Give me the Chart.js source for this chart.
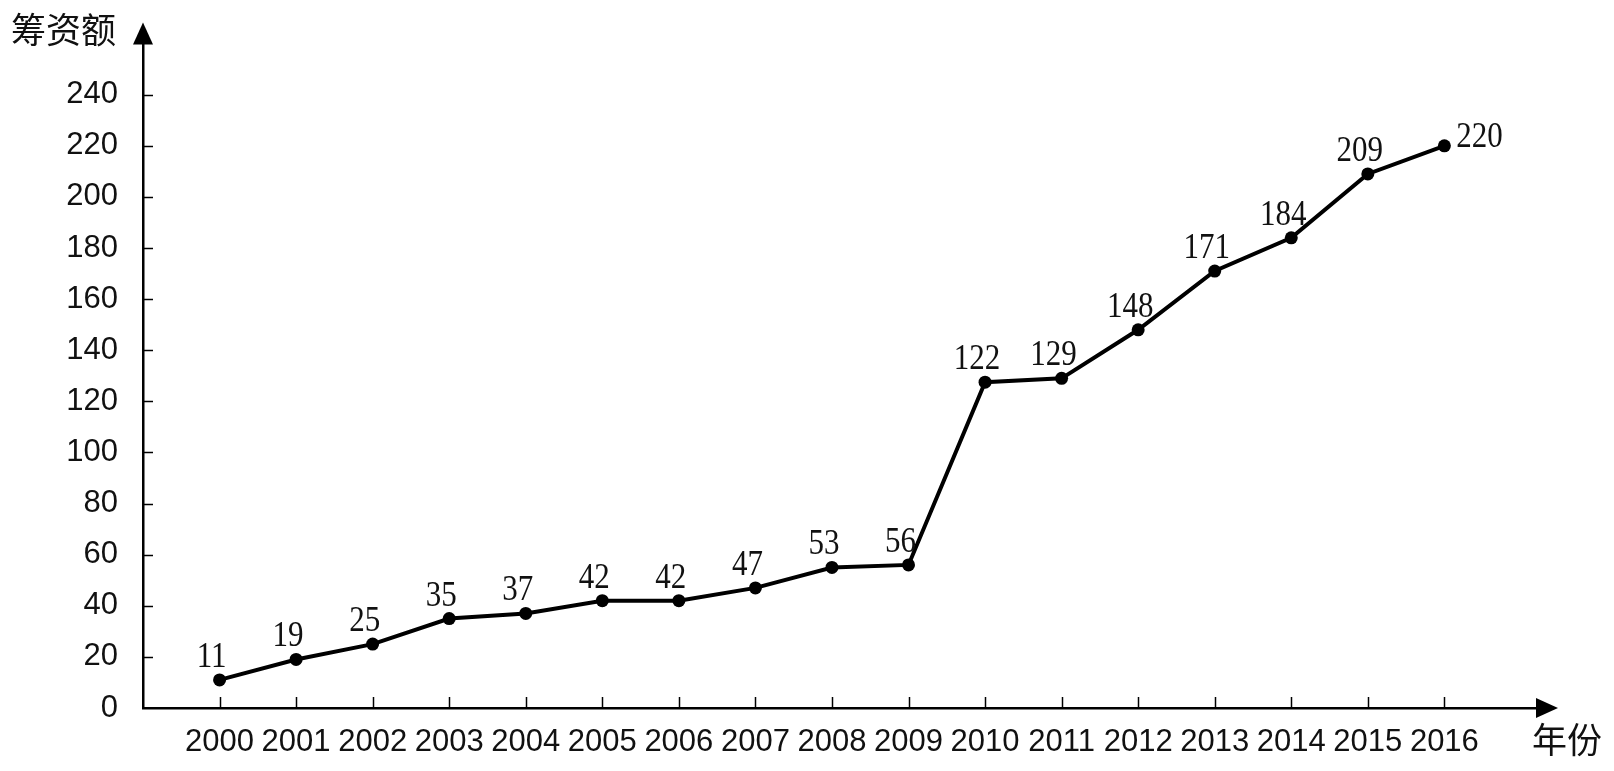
<!DOCTYPE html>
<html>
<head>
<meta charset="utf-8">
<script src="https://cdn.jsdelivr.net/npm/chart.js@4.4.1/dist/chart.umd.min.js"></script>
<style>
html,body{margin:0;padding:0;background:#fff;}
#wrap{width:1614px;height:771px;position:relative;}
</style>
</head>
<body>
<div id="wrap"><canvas id="c" width="1614" height="771"></canvas></div>
<script>
// ---- data ----
const years = [2000,2001,2002,2003,2004,2005,2006,2007,2008,2009,2010,2011,2012,2013,2014,2015,2016];
const plottedValues = [11,19,25,35,37,42,42,47,55,56,127.5,129,148,171,184,209,220];
const valueLabels = ['11','19','25','35','37','42','42','47','53','56','122','129','148','171','184','209','220'];
const yTickValues = [0,20,40,60,80,100,120,140,160,180,200,220,240];
const yAxisTitle = '筹资额';
const xAxisTitle = '年份';

const AX = '#000';
const TXT = '#111';

const decor = {
  id: 'decor',
  afterDraw(chart) {
    const ctx = chart.ctx;
    const a = chart.chartArea;
    const xs = chart.scales.x, ys = chart.scales.y;
    ctx.save();
    // tick marks (inside)
    ctx.strokeStyle = AX; ctx.lineWidth = 1.5;
    ys.ticks.forEach(t => {
      const y = Math.round(ys.getPixelForValue(t.value)) + 0.5;
      if (t.value === 0) return;
      ctx.beginPath(); ctx.moveTo(a.left, y); ctx.lineTo(a.left + 10, y); ctx.stroke();
    });
    xs.ticks.forEach(t => {
      const x = Math.round(xs.getPixelForValue(t.value)) + 0.5;
      ctx.beginPath(); ctx.moveTo(x, a.bottom); ctx.lineTo(x, a.bottom - 11); ctx.stroke();
    });
    // arrows
    ctx.fillStyle = AX;
    ctx.beginPath();
    ctx.moveTo(a.left, a.top - 21); ctx.lineTo(a.left - 10, a.top + 1); ctx.lineTo(a.left + 10, a.top + 1); ctx.closePath(); ctx.fill();
    ctx.beginPath();
    ctx.moveTo(a.right + 21, a.bottom); ctx.lineTo(a.right - 1, a.bottom - 10); ctx.lineTo(a.right - 1, a.bottom + 10); ctx.closePath(); ctx.fill();
    // axis titles
    ctx.fillStyle = '#111';
    ctx.font = '35px "Noto Sans CJK SC"';
    ctx.textBaseline = 'middle';
    ctx.textAlign = 'left';
    ctx.fillText(yAxisTitle, 11, 30);
    ctx.fillText(xAxisTitle, a.right - 5, 740);
    // data labels (slightly tall serif digits)
    const meta = chart.getDatasetMeta(0);
    ctx.font = '31px "Liberation Serif"';
    ctx.fillStyle = TXT;
    const sy = 1.18;
    meta.data.forEach((pt, i) => {
      ctx.save();
      if (i === meta.data.length - 1) {
        ctx.translate(pt.x + 12, pt.y - 8);
        ctx.scale(1, sy);
        ctx.textAlign = 'left'; ctx.textBaseline = 'middle';
        ctx.fillText(valueLabels[i], 0, 0);
      } else {
        ctx.translate(pt.x - 8, pt.y - 13);
        ctx.scale(1, sy);
        ctx.textAlign = 'center'; ctx.textBaseline = 'alphabetic';
        ctx.fillText(valueLabels[i], 0, 0);
      }
      ctx.restore();
    });
    ctx.restore();
  }
};

new Chart(document.getElementById('c'), {
  type: 'line',
  data: {
    datasets: [{
      data: years.map((y, i) => ({x: y, y: plottedValues[i]})),
      borderColor: '#000',
      backgroundColor: '#000',
      borderWidth: 4,
      pointRadius: 6.5,
      pointHoverRadius: 6.5,
      pointBackgroundColor: '#000',
      pointBorderWidth: 0,
      tension: 0,
      fill: false
    }]
  },
  options: {
    responsive: false,
    animation: false,
    events: [],
    layout: { padding: { left: 0, right: 77, top: 42, bottom: 0 } },
    plugins: { legend: { display: false }, tooltip: { enabled: false } },
    scales: {
      x: {
        type: 'linear',
        min: 1999,
        max: 2017.21,
        grid: { display: false, drawTicks: false },
        border: { display: true, color: AX, width: 2.5 },
        afterBuildTicks: s => { s.ticks = years.map(v => ({value: v})); },
        afterFit: s => { s.height = 63; },
        ticks: {
          autoSkip: false,
          maxRotation: 0,
          padding: 16,
          color: TXT,
          font: { family: '"Liberation Sans"', size: 31 },
          callback: v => String(v)
        }
      },
      y: {
        type: 'linear',
        min: 0,
        max: 260,
        grid: { display: false, drawTicks: false },
        border: { display: true, color: AX, width: 2.5 },
        afterBuildTicks: s => { s.ticks = yTickValues.map(v => ({value: v})); },
        afterFit: s => { s.width = 143; },
        ticks: {
          padding: 25,
          color: TXT,
          font: { family: '"Liberation Sans"', size: 31 },
          callback: v => String(v)
        }
      }
    }
  },
  plugins: [decor]
});
</script>
</body>
</html>
